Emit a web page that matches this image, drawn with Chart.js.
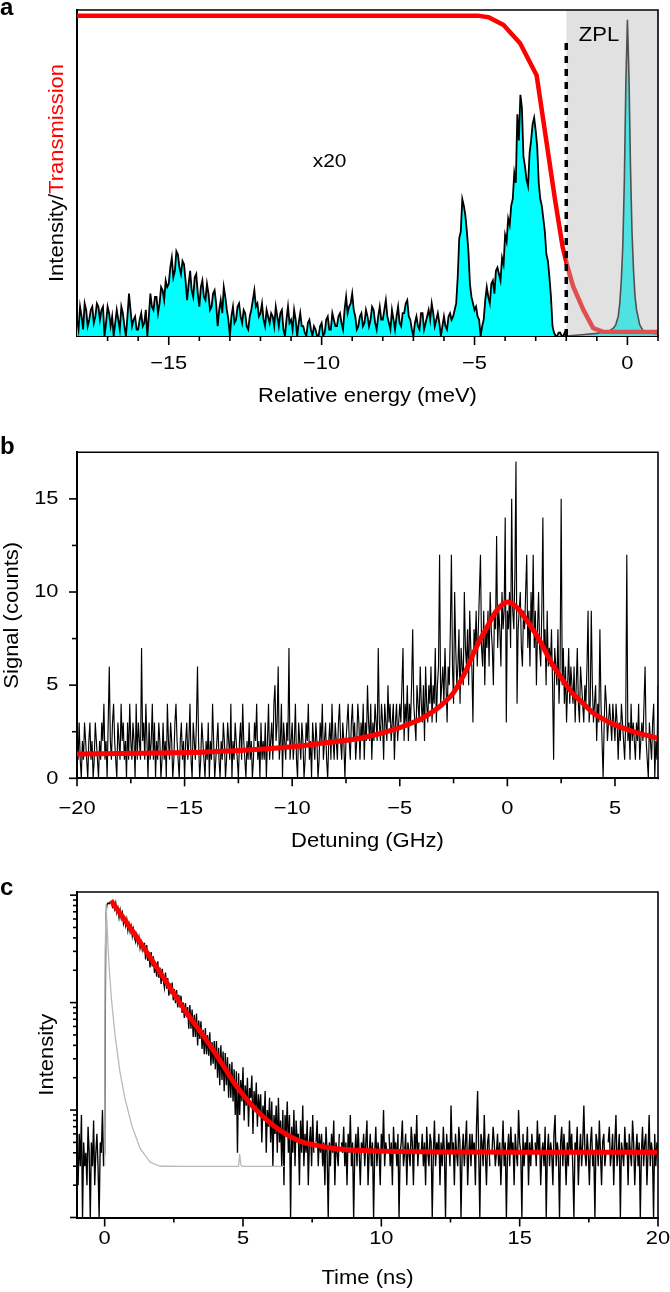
<!DOCTYPE html>
<html><head><meta charset="utf-8">
<script src="https://cdn.jsdelivr.net/npm/chart.js@4.4.1/dist/chart.umd.min.js"></script>
<style>
html,body{margin:0;padding:0;background:#fff;}
body{width:670px;height:1292px;position:relative;overflow:hidden;}
.panel{position:absolute;left:0;width:670px;}
canvas{display:block;}
</style></head><body>
<div class="panel" style="top:0;height:420px"><canvas id="ca"></canvas></div>
<div class="panel" style="top:420px;height:440px"><canvas id="cb"></canvas></div>
<div class="panel" style="top:860px;height:432px"><canvas id="cc"></canvas></div>
<script>
// ---------------- Panel a data ----------------
const aSpecStart = -18, aSpecStep = 0.05;
const aSpectrum = [
 .05,.02,.09,.06,.02,.10,.08,.03,.05,.08,.09,.04,.06,.10,.09,.05,.08,.09,.0,.04,
 .09,.07,.03,.06,.0,.04,.08,.05,.02,.09,.07,.03,.0,.06,.13,.08,.03,.05,.06,.02,
 .02,.05,.07,.03,.04,.08,.0,.06,.13,.09,.08,.12,.12,.07,.10,.15,.14,.11,.17,.15,
 .16,.21,.24,.18,.20,.26,.25,.21,.19,.23,.22,.17,.11,.16,.20,.14,.12,.18,.19,.13,
 .09,.15,.17,.12,.11,.16,.13,.08,.09,.13,.14,.10,.03,.08,.11,.07,.15,.12,.08,.05,
 .0,.06,.09,.04,.05,.09,.10,.06,.04,.08,.07,.03,.02,.06,.08,.11,.14,.09,.10,.06,
 .07,.10,.05,.03,.08,.06,.04,.07,.06,.03,.09,.06,.03,.07,.08,.02,.0,.05,.09,.04,
 .05,.02,.08,.05,.0,.04,.07,.03,.03,.01,.0,.04,.05,.02,.0,.03,.02,.0,.0,.03,
 .04,.0,.01,.05,.06,.02,.02,.07,.05,.03,.03,.06,.07,.04,.02,.08,.12,.07,.09,.10,
 .13,.08,.06,.02,.03,.06,.07,.03,.04,.08,.06,.03,.05,.09,.08,.04,.02,.06,.09,.05,
 .05,.08,.11,.06,.04,.02,.08,.05,.02,.06,.09,.04,.03,.07,.07,.10,.11,.06,.05,.02,
 .0,.04,.06,.03,.02,.07,.07,.02,.04,.06,.08,.05,.10,.07,.03,.05,.07,.04,.0,.03,
 .06,.03,.02,.06,.07,.05,.06,.08,.10,.18,.30,.32,.42,.40,.37,.32,.26,.16,.12,.10,
 .08,.09,.06,.05,.0,.03,.05,.11,.15,.12,.10,.16,.17,.13,.20,.21,.19,.17,.24,.22,
 .31,.29,.36,.34,.40,.42,.50,.47,.68,.60,.74,.70,.55,.52,.48,.46,.56,.60,.65,.67,
 .63,.58,.47,.42,.40,.36,.32,.25,.23,.18,.12,.03,.01,.0,.0,.01,.01,.0,.0,.01,
 0];
const aZplEnergy = [-2.0,-1.5,-1.0,-0.6,-0.45,-0.38,-0.3,-0.25,-0.2,-0.15,-0.1,-0.05,0,0.05,0.1,0.15,0.2,0.25,0.3,0.4,0.5,0.7,1.0];
const aZplIntensity = [0.0,0.004,0.008,0.015,0.025,0.035,0.06,0.10,0.17,0.28,0.48,0.78,0.97,0.80,0.52,0.32,0.20,0.12,0.08,0.035,0.018,0.01,0.006];
const aTransEnergy = [-18,-4.85,-4.54,-4.05,-3.51,-2.97,-2.37,-2.12,-1.99,-1.77,-1.44,-1.12,-0.79,1];
const aTransmission = [0.982,0.982,0.978,0.954,0.898,0.80,0.42,0.274,0.223,0.151,0.08,0.024,0.013,0.012];
const aFilterEdge = -2.0;
const aFilterTop = 0.906;
const aXTicks = [-15,-10,-5,0];

// ---------------- Panel b data ----------------
const bStart = -20, bStep = 0.05;
const bCounts = [
 2,1,3,1,0,2,1,3,2,1,0,2,3,1,2,0,1,3,2,1,
 0,2,1,3,2,4,1,2,0,3,6,2,1,3,4,2,1,0,3,2,
 1,4,2,3,1,2,0,3,1,4,2,1,3,2,0,4,1,3,2,1,
 7,2,3,1,4,2,0,3,1,2,4,1,3,0,2,1,3,2,0,1,
 3,1,2,0,4,2,1,3,2,0,1,3,4,2,1,0,2,3,1,2,
 0,2,3,1,2,4,1,0,3,2,1,3,6,2,0,1,3,2,1,0,
 2,1,3,0,2,1,4,2,0,1,2,3,1,0,2,1,3,2,0,1,
 3,2,1,4,0,2,1,3,2,1,0,2,3,1,4,2,1,0,2,1,
 3,1,2,0,1,3,2,4,1,2,0,3,1,2,1,3,0,2,4,1,
 2,3,1,4,5,2,3,6,1,2,4,0,3,2,1,3,2,7,1,2,
 3,1,2,4,1,0,3,2,1,3,2,0,1,3,2,4,1,2,0,3,
 2,1,3,2,0,1,3,2,4,1,2,3,1,0,2,3,1,4,2,1,
 3,2,1,3,4,2,1,3,2,0,2,3,4,2,1,3,4,2,3,1,
 2,4,3,1,3,2,4,1,3,2,5,3,2,4,1,3,2,4,3,2,
 7,3,2,4,3,1,4,3,2,5,3,4,2,3,4,1,3,4,2,3,
 4,3,5,7,2,4,3,5,2,4,3,5,8,4,3,2,5,4,3,6,
 4,3,5,2,6,4,3,5,4,6,3,5,4,7,3,5,6,12,4,5,
 6,4,7,5,3,6,5,8,12,6,4,10,7,5,6,8,4,7,6,5,
 10,7,6,8,5,9,7,6,3,8,7,9,6,8,10,12,7,6,9,5,
 8,7,9,6,10,8,7,5,9,8,13,7,9,8,6,10,8,9,14,3,
 9,8,10,7,15,9,8,11,17,4,8,9,10,7,6,9,8,10,12,7,
 9,6,10,8,12,7,9,5,8,10,7,6,9,14,7,8,5,9,6,7,
 6,8,5,1,7,6,5,8,4,6,15,5,7,4,6,3,5,7,4,6,
 5,4,6,3,5,7,4,3,6,5,4,3,5,4,6,9,3,4,9,5,
 3,4,5,2,4,3,8,4,2,0,3,5,4,2,3,4,3,2,4,3,
 2,4,3,1,3,2,4,3,2,1,3,12,2,3,1,4,2,3,2,1,
 3,2,4,1,2,3,2,4,6,2,1,0,3,2,1,3,4,0,2,1,
 5];
const bFitDetuning = [-20,-17,-14,-11,-9,-8,-7,-6,-5,-4.5,-4,-3.5,-3,-2.5,-2,-1.5,-1,-0.5,0,0.5,1,1.5,2,2.5,3,3.5,4,4.5,5,5.5,6,6.5,7];
const bFitCounts = [1.31,1.35,1.41,1.6,1.82,1.97,2.12,2.38,2.72,2.95,3.2,3.55,4.0,4.6,5.6,6.9,8.0,9.0,9.46,9.1,8.3,7.4,6.3,5.4,4.6,4.05,3.5,3.15,2.87,2.65,2.45,2.3,2.15];
const bXTicks = [-20,-15,-10,-5,0,5];
const bYTicks = [0,5,10,15];

// ---------------- Panel c data ----------------
const cStart = -1, cStep = 0.04;
const cDecay = [
 4,2,6,3,9,1,5,3,4,2,7,4,1,5,3,8,2,4,6,3,1,5,4,10,3,
 4,640,810,845,830,862,
 870,782,840,744,842,687,756,620,725,610,682,545,607,519,593,469,538,456,511,416,
 481,401,366,424,353,404,322,363,310,348,
 354,252,344,244,295,212,295,217,270,189,234,174,242,170,212,149,206,162,138,190,
 135,169,116,151,120,154,105,134,99,131,90,118,90,116,80,100,72,99,73,91,
 57,95,57,86,48,77,48,79,40,68,46,67,37,56,33,58,33,50,32,53,26,43,27,44,24,
 44,20,38,17,40,19,35,15,34,17,31,13,27,13,28,12,24,9,23,4,
 22,9,19,12,25,8,17,11,20,7,16,13,21,6,15,10,18,7,14,9,
 14,5,11,8,15,4,10,7,13,5,12,3,9,6,11,4,13,5,8,3,10,2,9,6,12,
 4,9,1,7,4,10,3,8,5,6,2,8,4,11,3,6,4,8,2,5,7,3,9,4,0,5,8,3,6,
 4,6,3,5,2,7,4,1,5,3,6,4,8,2,5,4,3,6,0,5,4,7,3,5,2,6,4,9,3,5,1,4,6,3,7,4,2,5,4,6,
 3,5,8,2,4,6,3,5,1,4,7,3,5,4,2,6,4,10,3,5,4,0,6,3,5,2,7,4,5,3,6,1,4,5,8,3,4,6,2,5,
 4,3,7,5,2,6,4,9,3,5,0,4,6,3,5,2,7,4,3,6,5,1,4,8,3,5,4,6,2,5,3,7,4,1,6,4,5,3,11,4,
 5,2,6,4,3,7,5,1,4,6,3,5,8,2,4,6,3,6,4,5,2,7,15,4,1,6,5,3,9,4,2,5,6,3,0,4,7,5,3,4,
 6,3,5,2,4,8,3,5,1,4,6,3,7,4,5,2,6,4,3,10,5,4,1,6,3,5,4,7,2,5,3,6,4,0,5,3,8,4,6,2,
 4,5,3,7,1,4,6,3,5,4,2,6,9,3,5,4,1,5,7,3,6,4,2,5,3,8,4,6,3,1,5,4,7,2,4,6,3,5,11,4,
 3,6,4,2,5,7,3,4,1,6,5,3,8,4,2,5,6,3,4,0,5,7,3,4,6,2,5,9,3,4,6,1,5,4,3,7,4,5,2,6,
 4,3,8,5,2,4,6,3,5,1,4,7,3,5,6,2,4,9,3,5,4,1,6,3,5,4];
const cIrfTime = [0,0.02,0.05,0.10,0.16,0.25,0.37,0.55,0.73,0.98,1.28,1.64,2.0,3.0,4.84,4.88,4.92,4.97,6.5];
const cIrf = [3,300,832,437,214,105,51,22.9,12.9,7.2,4.4,3.28,3.0,2.99,2.99,3.9,3.1,2.99,2.99];
const cFitTime = [0.23,0.6,1.16,1.76,2.36,2.96,3.57,4.17,4.77,5.37,5.98,6.58,7.18,7.78,8.39,9.59,12,16,20];
const cFit = [891,653,407,237,138,80.5,49,28.8,16.6,10.7,7.6,5.9,5.0,4.63,4.37,4.17,4.08,4.05,4.04];
const cXTicks = [0,5,10,15,20];

// ---------------- helpers ----------------
const FONT = "'Liberation Sans', Arial, Helvetica, sans-serif";
Chart.defaults.font.family = FONT;
Chart.defaults.color = '#000';
const fmt = v => (v < 0 ? '\u2212' + Math.abs(v) : String(v));
const pts = (xs, ys) => xs.map((x, i) => ({x, y: ys[i]}));
const grid = (start, step, ys) => ys.map((y, i) => ({x: start + i * step, y}));
function minorBetween(lo, hi, step, majors) {
  const out = [];
  for (let v = lo; v <= hi + 1e-9; v += step) {
    const r = Math.round(v * 1000) / 1000;
    if (!majors.includes(r)) out.push(r);
  }
  return out;
}
const logMinors = [];
[1, 10, 100].forEach(d => { for (let k = 2; k <= 9; k++) logMinors.push(k * d); });

const TICK_FONT = '19px ' + FONT, TICK_SX = 1.15;
const TITLE_FONT = '20px ' + FONT, TITLE_SX = 1.1;

function stretchedText(ctx, text, x, y, font, align, sx, rot, color) {
  ctx.save();
  ctx.translate(x, y);
  if (rot) ctx.rotate(rot);
  ctx.scale(sx, 1);
  ctx.font = font; ctx.textAlign = align; ctx.textBaseline = 'middle';
  ctx.fillStyle = color || '#000';
  ctx.fillText(text, 0, 0);
  ctx.restore();
}

const decor = {
  id: 'decor',
  afterDraw(chart, args, o) {
    const ctx = chart.ctx, a = chart.chartArea;
    ctx.save();
    ctx.strokeStyle = '#000';
    ctx.lineWidth = 1.6;
    ctx.beginPath();
    ctx.moveTo(a.left, a.top); ctx.lineTo(a.right, a.top); ctx.lineTo(a.right, a.bottom + 1);
    ctx.stroke();
    (o.ticks || []).forEach(t => {
      const s = chart.scales[t.axis];
      t.values.forEach(v => {
        const p = s.getPixelForValue(v);
        ctx.beginPath();
        if (s.isHorizontal()) { ctx.moveTo(p, a.bottom); ctx.lineTo(p, a.bottom + t.len); }
        else { ctx.moveTo(a.left, p); ctx.lineTo(a.left - t.len, p); }
        ctx.stroke();
      });
    });
    ctx.restore();
    (o.tickLabels || []).forEach(t => {
      const s = chart.scales[t.axis];
      t.values.forEach(v => {
        const p = s.getPixelForValue(v);
        if (s.isHorizontal()) stretchedText(ctx, fmt(v), p, t.pos, TICK_FONT, 'center', TICK_SX);
        else stretchedText(ctx, fmt(v), t.pos, p, TICK_FONT, 'right', TICK_SX);
      });
    });
    (o.titles || []).forEach(t => {
      if (t.rot) stretchedText(ctx, t.text, t.x, (a.top + a.bottom) / 2, TITLE_FONT, 'center', TITLE_SX, -Math.PI / 2);
      else stretchedText(ctx, t.text, (a.left + a.right) / 2, t.y, TITLE_FONT, 'center', TITLE_SX);
    });
    (o.notes || []).forEach(l => {
      const x = l.xv !== undefined ? chart.scales.x.getPixelForValue(l.xv) : l.x;
      const y = l.yv !== undefined ? chart.scales.y.getPixelForValue(l.yv) : l.y;
      stretchedText(ctx, l.text, x, y, l.font, l.align || 'center', l.sx || 1);
    });
    if (o.splitTitle) {
      const st = o.splitTitle;
      ctx.save();
      ctx.font = TITLE_FONT; ctx.textBaseline = 'middle'; ctx.textAlign = 'left';
      const widths = st.parts.map(p => ctx.measureText(p[0]).width);
      const total = widths.reduce((s, w) => s + w, 0);
      ctx.translate(st.x, (a.top + a.bottom) / 2);
      ctx.rotate(-Math.PI / 2);
      ctx.scale(TITLE_SX, 1);
      let cx = -total / 2;
      st.parts.forEach((p, i) => { ctx.fillStyle = p[1]; ctx.fillText(p[0], cx, 0); cx += widths[i]; });
      ctx.restore();
    }
  }
};

const axisBorder = {display: true, color: '#000', width: 2};
const baseOpts = {responsive: true, maintainAspectRatio: false, animation: false, events: []};

// ---------------- Panel a ----------------
new Chart(document.getElementById('ca'), {
  type: 'line',
  plugins: [decor],
  data: {datasets: [
    {label: 'Intensity (x20)', data: grid(aSpecStart, aSpecStep, aSpectrum), borderColor: '#000', borderWidth: 1.8,
     backgroundColor: '#00ffff', fill: 'origin', pointRadius: 0, tension: 0, order: 5},
    {label: 'ZPL', data: pts(aZplEnergy, aZplIntensity), borderColor: '#000', borderWidth: 1.6,
     backgroundColor: '#00ffff', fill: 'origin', pointRadius: 0, tension: 0, order: 4},
    {label: 'Transmission', data: pts(aTransEnergy, aTransmission), borderColor: '#ff0000', borderWidth: 4.5,
     fill: false, pointRadius: 0, tension: 0, borderJoinStyle: 'round', order: 3},
    {label: 'Filtered region', data: [{x: aFilterEdge, y: 1}, {x: 1, y: 1}], borderWidth: 0, borderColor: 'rgba(0,0,0,0)',
     backgroundColor: 'rgba(186,186,186,0.43)', fill: 'origin', pointRadius: 0, order: 2},
    {label: 'Filter edge', data: [{x: aFilterEdge, y: 0}, {x: aFilterEdge, y: aFilterTop}], borderColor: '#000', borderWidth: 3.5,
     borderDash: [7, 6], fill: false, pointRadius: 0, order: 1}
  ]},
  options: Object.assign({}, baseOpts, {
    layout: {padding: {left: 0, right: 12, top: 10, bottom: 0}},
    plugins: {
      legend: {display: false}, tooltip: {enabled: false},
      decor: {
        ticks: [{axis: 'x', values: aXTicks, len: 9}, {axis: 'x', values: minorBetween(-17, 1, 1, aXTicks), len: 5}],
        tickLabels: [{axis: 'x', values: aXTicks, pos: 364}],
        titles: [{text: 'Relative energy (meV)', y: 396.5}],
        notes: [
          {text: 'a', x: 0, y: 8, font: 'bold 24px ' + FONT, align: 'left'},
          {text: 'x20', xv: -9.74, yv: 0.535, font: '19px ' + FONT, sx: 1.1},
          {text: 'ZPL', xv: -0.93, yv: 0.922, font: '20px ' + FONT, sx: 1.1}
        ],
        splitTitle: {x: 57.5, parts: [['Intensity/', '#000'], ['Transmission', '#ff0000']]}
      }
    },
    scales: {
      x: {type: 'linear', min: -18, max: 1, afterFit: s => { s.height = 84; },
          grid: {display: false}, border: axisBorder, ticks: {display: false}},
      y: {type: 'linear', min: 0, max: 1, afterFit: s => { s.width = 77; },
          grid: {display: false}, border: axisBorder, ticks: {display: false}}
    }
  })
});

// ---------------- Panel b ----------------
new Chart(document.getElementById('cb'), {
  type: 'line',
  plugins: [decor],
  data: {datasets: [
    {label: 'Lorentzian fit', data: pts(bFitDetuning, bFitCounts), borderColor: '#ff0000', borderWidth: 5,
     fill: false, pointRadius: 0, cubicInterpolationMode: 'monotone', order: 1},
    {label: 'Signal', data: grid(bStart, bStep, bCounts), borderColor: '#000', borderWidth: 1.15,
     fill: false, pointRadius: 0, tension: 0, order: 2}
  ]},
  options: Object.assign({}, baseOpts, {
    layout: {padding: {left: 0, right: 12, top: 32.3, bottom: 0}},
    plugins: {
      legend: {display: false}, tooltip: {enabled: false},
      decor: {
        ticks: [
          {axis: 'x', values: bXTicks, len: 8}, {axis: 'x', values: [-17.5, -12.5, -7.5, -2.5, 2.5], len: 5},
          {axis: 'y', values: bYTicks, len: 8}, {axis: 'y', values: [2.5, 7.5, 12.5], len: 5}
        ],
        tickLabels: [{axis: 'x', values: bXTicks, pos: 389}, {axis: 'y', values: bYTicks, pos: 58.5}],
        titles: [{text: 'Detuning (GHz)', y: 421.5}, {text: 'Signal (counts)', x: 12, rot: true}],
        notes: [{text: 'b', x: 0, y: 27, font: 'bold 24px ' + FONT, align: 'left'}]
      }
    },
    scales: {
      x: {type: 'linear', min: -20, max: 7, afterFit: s => { s.height = 81.7; },
          grid: {display: false}, border: axisBorder, ticks: {display: false}},
      y: {type: 'linear', min: 0, max: 17.5, afterFit: s => { s.width = 77; },
          grid: {display: false}, border: axisBorder, ticks: {display: false}}
    }
  })
});

// ---------------- Panel c ----------------
new Chart(document.getElementById('cc'), {
  type: 'line',
  plugins: [decor],
  data: {datasets: [
    {label: 'Fit', data: pts(cFitTime, cFit), borderColor: '#ff0000', borderWidth: 5,
     fill: false, pointRadius: 0, cubicInterpolationMode: 'monotone', order: 1},
    {label: 'IRF', data: pts(cIrfTime, cIrf), borderColor: '#b9b9b9', borderWidth: 1.3,
     fill: false, pointRadius: 0, tension: 0, order: 2},
    {label: 'Decay', data: grid(cStart, cStep, cDecay), borderColor: '#000', borderWidth: 1.35,
     fill: false, pointRadius: 0, tension: 0, order: 3}
  ]},
  options: Object.assign({}, baseOpts, {
    layout: {padding: {left: 0, right: 12, top: 32, bottom: 0}},
    plugins: {
      legend: {display: false}, tooltip: {enabled: false},
      decor: {
        ticks: [
          {axis: 'x', values: cXTicks, len: 9}, {axis: 'x', values: [2.5, 7.5, 12.5, 17.5], len: 5},
          {axis: 'y', values: [1, 10, 100, 1000], len: 7}, {axis: 'y', values: logMinors, len: 4}
        ],
        tickLabels: [{axis: 'x', values: cXTicks, pos: 378.3}],
        titles: [{text: 'Time (ns)', y: 418.5}, {text: 'Intensity', x: 47, rot: true}],
        notes: [{text: 'c', x: 0, y: 28, font: 'bold 24px ' + FONT, align: 'left'}]
      }
    },
    scales: {
      x: {type: 'linear', min: -1, max: 20, afterFit: s => { s.height = 74.5; },
          grid: {display: false}, border: axisBorder, ticks: {display: false}},
      y: {type: 'logarithmic', min: 1, max: 1070, afterFit: s => { s.width = 77; },
          grid: {display: false}, border: axisBorder, ticks: {display: false}}
    }
  })
});
</script>
</body></html>
